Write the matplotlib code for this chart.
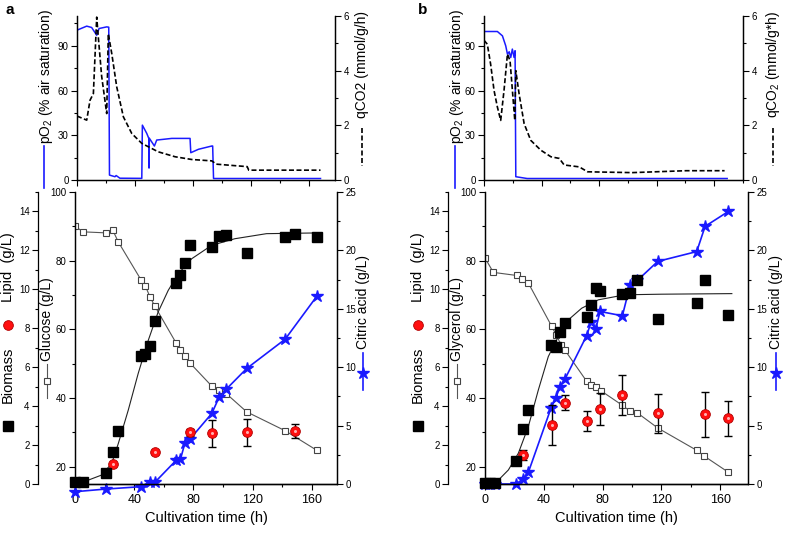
import matplotlib
matplotlib.use("Agg")
import matplotlib.pyplot as plt
from matplotlib.lines import Line2D
from matplotlib.ticker import MultipleLocator, NullFormatter

plt.rcParams['font.family'] = ['Liberation Sans', 'DejaVu Sans']
plt.rcParams['mathtext.fontset'] = 'custom'
plt.rcParams['mathtext.rm'] = 'Liberation Sans'
plt.rcParams['mathtext.default'] = 'regular'

# ---- panel a, bottom (glucose) ----
a_glc_t = [0, 5.6, 21, 25.4, 29.2, 44.5, 47.6, 50.6, 53.9, 68.5, 71.2, 74.2, 77.5, 92.4, 97.3, 102.2, 116, 142, 163.4]
a_glc = [90.0, 88.4, 88.1, 89.0, 85.5, 74.5, 72.6, 69.5, 66.8, 55.9, 54.1, 52.2, 50.3, 43.5, 42.3, 41.3, 36.0, 30.5, 24.8]
a_bio_t = [0, 5.6, 21, 25.4, 29.2, 44.5, 47.6, 50.6, 53.9, 68.5, 71.2, 74.2, 77.5, 92.4, 97.3, 102.2, 116, 142, 148.3, 163.4]
a_bio = [0.1, 0.1, 0.58, 1.66, 2.72, 6.58, 6.67, 7.08, 8.36, 10.32, 10.72, 11.35, 12.26, 12.17, 12.72, 12.80, 11.86, 12.68, 12.82, 12.68]
a_fit_t = [0, 9, 18, 24.8, 29.3, 36, 42.7, 49.5, 56.2, 63, 69.8, 78.8, 92.3, 108, 129.4, 166]
a_fit = [0.12, 0.2, 0.46, 1.06, 2.09, 3.8, 5.68, 7.38, 8.84, 9.95, 10.8, 11.57, 12.26, 12.6, 12.86, 12.9]
a_lip_t = [25.4, 53.9, 77.5, 92.4, 116, 148.3]
a_lip = [1.03, 1.62, 2.65, 2.6, 2.65, 2.73]
a_lip_err = [0, 0.1, 0.2, 0.7, 0.7, 0.37]
a_cit_t = [0, 21, 44.5, 50.6, 53.9, 68.5, 71.2, 74.2, 77.5, 92.4, 97.3, 102.2, 116, 142, 163.4]
a_cit = [-0.66, -0.43, -0.23, 0.2, 0.14, 2.05, 2.1, 3.48, 3.82, 6.04, 7.41, 8.12, 9.89, 12.4, 16.08]

# ---- panel a, top (online) ----
a_po2_t = [0, 6.7, 10.1, 13.6, 15.2, 20.5, 21.9, 22.4, 26.2, 27, 29.6, 44.7, 45.1, 48.1, 49.5, 49.7, 49.9, 53.4, 55, 65.4, 78.0, 78.5, 83.8, 93, 93.6, 94.2, 168]
a_po2 = [100.5, 103.2, 102.3, 97.1, 101.6, 102.7, 102.5, 3.3, 2.2, 3, 1.2, 1.1, 36.8, 31.3, 28, 8, 28, 22.8, 26.8, 27.9, 27.9, 18.3, 20.6, 22.8, 22.8, 1.0, 1.0]
a_qco2_t = [0, 6.7, 9, 11.3, 13.6, 14.7, 17, 20.5, 21.6, 24, 27.4, 32, 37.8, 44.7, 56.1, 67.7, 79.2, 93, 96, 110, 117.4, 118.5, 168]
a_qco2 = [2.34, 2.19, 2.92, 3.16, 5.96, 5.23, 3.8, 2.43, 5.35, 4.62, 3.41, 2.31, 1.7, 1.34, 1.03, 0.85, 0.75, 0.7, 0.58, 0.52, 0.49, 0.36, 0.36]

# ---- panel b, bottom (glycerol) ----
b_gly_t = [0, 5.7, 21.6, 25.4, 29.5, 45.4, 48.3, 51.7, 54.5, 69.2, 72.2, 75.3, 78.7, 93.5, 98.7, 103.7, 117.6, 144.1, 149.3, 165.7]
b_gly = [80.8, 76.6, 75.7, 74.7, 73.5, 60.9, 58.5, 55.6, 53.9, 44.9, 43.9, 43.2, 42.2, 37.9, 36.2, 35.7, 31.3, 24.8, 23.1, 18.4]
b_bio_t = [0, 3.4, 6.8, 21.1, 25.6, 29.5, 44.9, 48.1, 51.1, 54.5, 69.2, 72.2, 75.4, 78.3, 93.5, 98.7, 103.7, 117.6, 144.1, 149.8, 165.7]
b_bio = [0.07, 0.07, 0.07, 1.2, 2.81, 3.8, 7.15, 7.06, 7.83, 8.26, 8.6, 9.2, 10.06, 9.94, 9.75, 9.8, 10.49, 8.46, 9.32, 10.49, 8.69]
b_fit_t = [0, 9.1, 15.9, 22.7, 29.5, 36.3, 43.1, 49.9, 56.7, 65.8, 77.1, 95.3, 120, 168]
b_fit = [0.03, 0.2, 0.72, 1.58, 2.95, 4.83, 6.55, 7.57, 8.43, 9.03, 9.46, 9.72, 9.75, 9.78]
b_lip_t = [25.6, 45.4, 54.5, 69.2, 78.3, 93.5, 117.6, 149.8, 165.7]
b_lip = [1.49, 3.03, 4.18, 3.25, 3.84, 4.57, 3.63, 3.58, 3.38]
b_lip_err = [0.27, 1.03, 0.4, 0.51, 0.81, 1.03, 1.0, 1.17, 0.9]
b_cit_t = [0, 3.4, 6.8, 21.1, 25.6, 29.5, 44.9, 48.1, 51.1, 54.5, 69.2, 72.2, 75.4, 78.3, 93.5, 98.7, 103.7, 117.6, 144.1, 149.8, 165.7]
b_cit = [0, 0, 0, 0, 0.4, 1.0, 6.49, 7.34, 8.34, 9.0, 12.71, 13.86, 13.29, 14.77, 14.4, 17.0, 17.43, 19.06, 19.9, 22.06, 23.34]

# ---- panel b, top (online) ----
b_po2_t = [0, 9.3, 12.8, 15.1, 16.3, 17.5, 18.6, 19.7, 20.9, 21.6, 22.1, 30, 169]
b_po2 = [99.6, 99.6, 96.7, 90, 84.4, 86, 82.2, 87.8, 82.2, 86.7, 2.2, 1.0, 1.0]
b_qco2_t = [0, 2.3, 4.6, 7, 9.3, 11.6, 13.9, 16.3, 18.1, 21.4, 22.1, 24.4, 27.9, 32.5, 39.5, 46.5, 52.3, 55.7, 66.2, 72, 103, 140.5, 167.2]
b_qco2 = [5.11, 4.97, 4.24, 3.27, 2.67, 2.18, 3.27, 4.61, 4.36, 2.18, 4.0, 3.15, 2.06, 1.45, 1.09, 0.85, 0.79, 0.55, 0.48, 0.3, 0.27, 0.34, 0.34]

W, H = 785, 533
fig = plt.figure(figsize=(W / 100, H / 100), dpi=100)
BLUE = '#1a1aff'


def box(x0, y0, x1, y1):
    return [x0 / W, 1 - y1 / H, (x1 - x0) / W, (y1 - y0) / H]


def vtext(x, y, s, size=10):
    fig.text(x / W, 1 - y / H, s, rotation=90, ha='center', va='center', fontsize=size)


def vseg(x, y0, y1, **kw):
    fig.add_artist(Line2D([x / W, x / W], [1 - y0 / H, 1 - y1 / H], transform=fig.transFigure, **kw))


def mark(x, y, **kw):
    fig.add_artist(Line2D([x / W], [1 - y / H], transform=fig.transFigure, **kw))


def style(ax, size=7):
    ax.tick_params(which='both', direction='out', labelsize=size, width=0.8, pad=2)
    ax.tick_params(which='major', length=4)
    ax.tick_params(which='minor', length=2)
    for s in ax.spines.values():
        s.set_linewidth(0.9)
    ax.spines['top'].set_visible(False)


def top_panel(rect, xmax, po2_t, po2, q_t, q):
    ax = fig.add_axes(rect)
    ax.plot(po2_t, po2, color=BLUE, lw=1.1)
    ax.set_xlim(0, xmax)
    ax.set_ylim(0, 110)
    ax.yaxis.set_major_locator(MultipleLocator(30))
    ax.yaxis.set_minor_locator(MultipleLocator(15))
    ax.xaxis.set_major_locator(MultipleLocator(40))
    ax.xaxis.set_minor_locator(MultipleLocator(20))
    ax.xaxis.set_major_formatter(NullFormatter())
    style(ax, 7)
    ax2 = ax.twinx()
    ax2.plot(q_t, q, color='black', lw=1.2, ls=(0, (3, 1.5)))
    ax2.set_ylim(0, 6)
    ax2.yaxis.set_major_locator(MultipleLocator(2))
    ax2.yaxis.set_minor_locator(MultipleLocator(1))
    style(ax2, 7)


def bottom_panel(rect, outer_frac, xmax, s_t, s, bio_t, bio, fit_t, fit, lip_t, lip, lip_err, cit_t, cit):
    ax = fig.add_axes(rect)
    ax.plot(s_t, s, color='#555555', lw=0.8, marker='s', ms=4.5, mfc='white', mec='#444444', mew=0.8)
    ax.set_xlim(0, xmax)
    ax.set_ylim(15, 100)
    ax.yaxis.set_major_locator(MultipleLocator(20))
    ax.yaxis.set_minor_locator(MultipleLocator(10))
    ax.xaxis.set_major_locator(MultipleLocator(40))
    ax.xaxis.set_minor_locator(MultipleLocator(20))
    style(ax, 7)
    ax.tick_params(axis='x', labelsize=9, pad=3)
    ax.set_xlabel('Cultivation time (h)', fontsize=10.5, labelpad=4)

    ax_c = ax.twinx()
    ax_c.plot(cit_t, cit, color=BLUE, lw=1.2, marker='*', ms=9, clip_on=False)
    ax_c.set_ylim(0, 25)
    ax_c.yaxis.set_major_locator(MultipleLocator(5))
    ax_c.yaxis.set_minor_locator(MultipleLocator(2.5))
    style(ax_c, 7)

    ax_b = ax.twinx()
    ax_b.spines['left'].set_position(('axes', outer_frac))
    ax_b.spines['left'].set_visible(True)
    ax_b.spines['right'].set_visible(False)
    ax_b.yaxis.set_ticks_position('left')
    ax_b.plot(fit_t, fit, color='#222222', lw=0.8)
    ax_b.errorbar(lip_t, lip, yerr=lip_err, fmt='none', ecolor='black', elinewidth=1, capsize=3, capthick=1)
    ax_b.plot(lip_t, lip, ls='none', marker='o', ms=7, mfc='#ff1010', mec='#b00000', mew=0.6)
    ax_b.plot(lip_t, lip, ls='none', marker='o', ms=2.2, mfc='#ffb0b0', mec='none')
    ax_b.plot(bio_t, bio, ls='none', marker='s', ms=6.5, color='black', clip_on=False)
    ax_b.set_ylim(0, 15)
    ax_b.yaxis.set_major_locator(MultipleLocator(2))
    ax_b.yaxis.set_minor_locator(MultipleLocator(1))
    style(ax_b, 7)


# panel a
top_panel(box(77, 16, 335, 180), 178, a_po2_t, a_po2, a_qco2_t, a_qco2)
bottom_panel(box(75, 192, 337, 484), -37 / 262, 177, a_glc_t, a_glc, a_bio_t, a_bio,
             a_fit_t, a_fit, a_lip_t, a_lip, a_lip_err, a_cit_t, a_cit)
# panel b
top_panel(box(484, 16, 743, 180), 180, b_po2_t, b_po2, b_qco2_t, b_qco2)
bottom_panel(box(485, 192, 748, 484), -37 / 263, 179, b_gly_t, b_gly, b_bio_t, b_bio,
             b_fit_t, b_fit, b_lip_t, b_lip, b_lip_err, b_cit_t, b_cit)

fig.text(5 / W, 1 - 10 / H, 'a', fontsize=11, fontweight='bold', va='center')
fig.text(418 / W, 1 - 10 / H, 'b', fontsize=11, fontweight='bold', va='center')

# axis labels with symbol keys (Origin style)
for ox, sx, cx, px, qx, sname, qname in [
        (8, 47, 363, 46, 362, 'Glucose (g/L)', 'qCO2 (mmol/g/h)'),
        (418, 457, 776, 457, 773, 'Glycerol (g/L)', r'qCO$_2$ (mmol/g*h)')]:
    mark(ox, 426, marker='s', ms=6.5, color='black')
    vtext(ox, 375, 'Biomass', 10.5)
    mark(ox, 325, marker='o', ms=7, mfc='#ff1010', mec='#b00000', mew=0.6)
    vtext(ox, 267, 'Lipid  (g/L)', 10.5)
    vseg(sx, 398, 364, color='#555555', lw=0.8)
    mark(sx, 381, marker='s', ms=4.5, mfc='white', mec='#444444', mew=0.8)
    vtext(sx, 319, sname)
    vseg(cx, 353, 390, color=BLUE, lw=1.2)
    mark(cx, 373, marker='*', ms=9, color=BLUE)
    vtext(cx, 302, 'Citric acid (g/L)')
    vtext(px, 76, r'pO$_2$ (% air saturation)')
    vseg(px - 2, 146, 188, color=BLUE, lw=1.2)
    vtext(qx, 64, qname)
    vseg(qx, 128, 166, color='black', lw=1.2, ls=(0, (3, 1.5)))

fig.savefig('out.png', dpi=100)
